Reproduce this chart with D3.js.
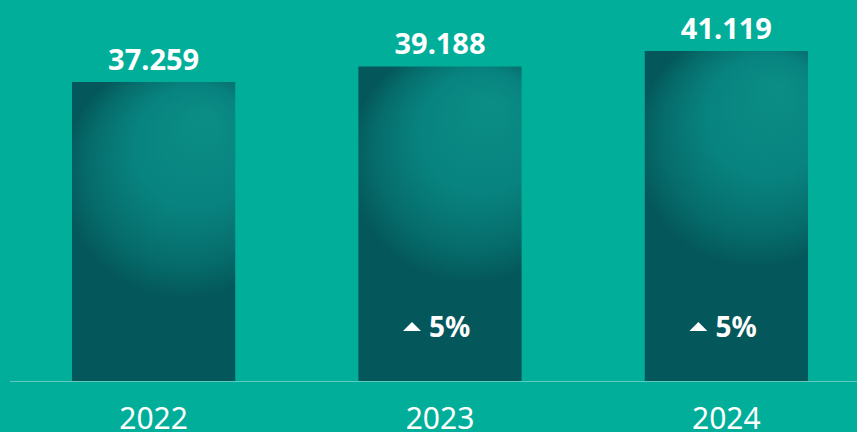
<!DOCTYPE html>
<html>
<head>
<meta charset="utf-8">
<script src="https://cdn.jsdelivr.net/npm/d3@7"></script>
<style>
  html, body { margin: 0; padding: 0; background: #00ae9a; overflow: hidden; }
  text { font-family: "Noto Sans", "Open Sans", sans-serif; fill: #fff; }
</style>
</head>
<body>
<div id="chart"></div>
<script>
// Data
const years = ["2022", "2023", "2024"];
const values = [37.259, 39.188, 41.119];
const valueLabels = ["37.259", "39.188", "41.119"];
const growthLabels = [null, "5%", "5%"];

const width = 857, height = 432;
const baseY = 381;

const svg = d3.select("#chart").append("svg")
    .attr("width", width)
    .attr("height", height);

svg.append("rect").attr("width", width).attr("height", height).attr("fill", "#00ae9a");

// Scales
const x = d3.scaleBand()
    .domain(years)
    .range([72, 808])
    .paddingInner(0.43)
    .paddingOuter(0);

const y = d3.scaleLinear()
    .domain([0, 41.119])
    .range([baseY, 51]);

// Sphere-like shading, one gradient per bar
const defs = svg.append("defs");
values.forEach((v, i) => {
    const bx = x(years[i]), by = y(v), bw = x.bandwidth();
    const g = defs.append("radialGradient")
        .attr("id", "barGrad" + i)
        .attr("gradientUnits", "userSpaceOnUse")
        .attr("cx", bx + bw * 0.68).attr("cy", by + 95)
        .attr("r", 122)
        .attr("fx", bx + bw * 0.82).attr("fy", by + 35);
    g.append("stop").attr("offset", "0%").attr("stop-color", "#0b8e86");
    g.append("stop").attr("offset", "50%").attr("stop-color", "#08837f");
    g.append("stop").attr("offset", "80%").attr("stop-color", "#066d6c");
    g.append("stop").attr("offset", "100%").attr("stop-color", "#04575a");
});

const bars = svg.selectAll(".bar")
    .data(values)
    .enter()
    .append("g")
    .attr("class", "bar");

bars.append("rect")
    .attr("x", (d, i) => x(years[i]))
    .attr("y", d => y(d))
    .attr("width", x.bandwidth())
    .attr("height", d => baseY - y(d))
    .attr("fill", (d, i) => `url(#barGrad${i})`);

// Baseline
svg.append("line")
    .attr("x1", 10).attr("x2", width)
    .attr("y1", baseY + 0.5).attr("y2", baseY + 0.5)
    .attr("stroke", "#5fc9bc")
    .attr("stroke-width", 1);

// Value labels
bars.append("text")
    .attr("x", (d, i) => x(years[i]) + x.bandwidth() / 2)
    .attr("y", d => y(d) - 12)
    .attr("text-anchor", "middle")
    .attr("font-size", 29)
    .attr("font-weight", "bold")
    .text((d, i) => valueLabels[i]);

// Year labels
svg.selectAll(".year")
    .data(years)
    .enter()
    .append("text")
    .attr("class", "year")
    .attr("x", d => x(d) + x.bandwidth() / 2)
    .attr("y", 429)
    .attr("text-anchor", "middle")
    .attr("font-size", 30)
    .text(d => d);

// Growth labels
const growth = svg.selectAll(".growth")
    .data(growthLabels.map((g, i) => ({ g, i })).filter(d => d.g))
    .enter()
    .append("g")
    .attr("class", "growth")
    .attr("transform", d => `translate(${x(years[d.i]) + x.bandwidth() / 2},337)`);

growth.append("path")
    .attr("d", "M-37,-6 L-28,-15 L-19,-6 Z")
    .attr("fill", "#fff");

growth.append("text")
    .attr("x", -11)
    .attr("y", 0)
    .attr("font-size", 28)
    .attr("font-weight", "bold")
    .text(d => d.g);
</script>
</body>
</html>
